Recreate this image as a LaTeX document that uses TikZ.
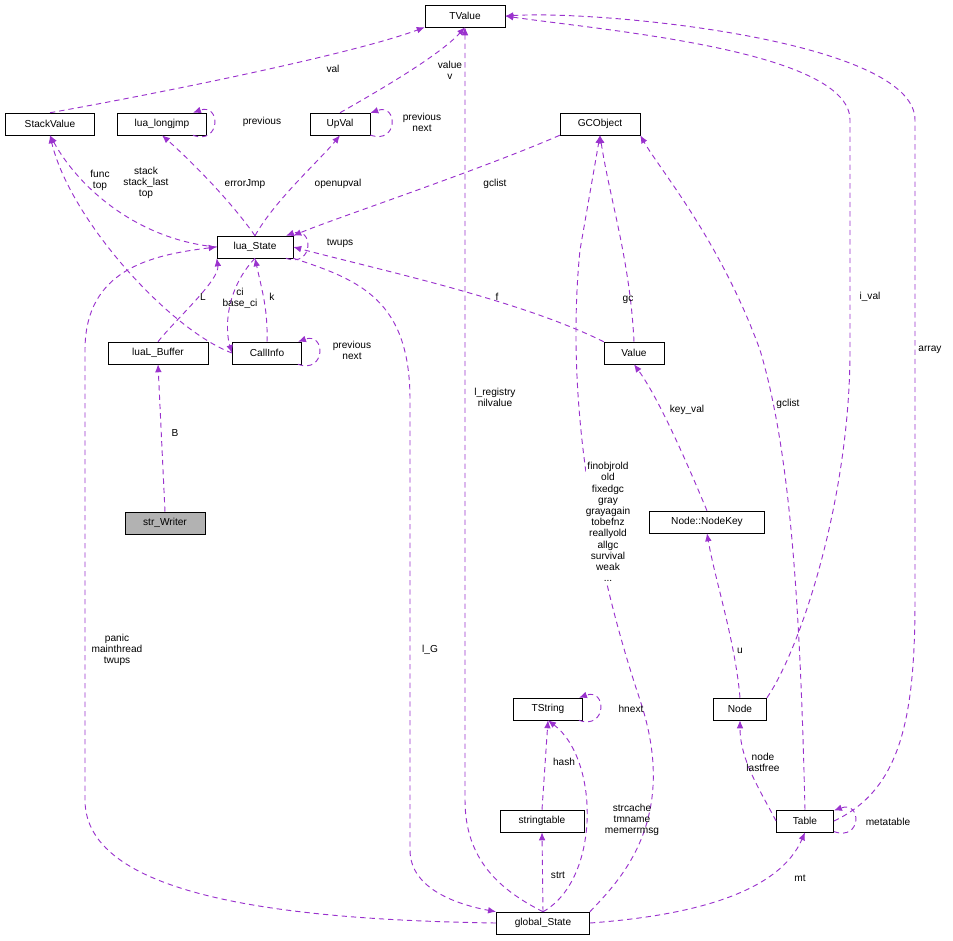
\documentclass[tikz,border=0pt]{standalone}
\usepackage{fontspec}
\setmainfont{Liberation Sans}
\usetikzlibrary{arrows.meta}

\begin{document}
\begin{tikzpicture}[x=0.75pt,y=-0.75pt,
  every node/.style={font=\fontsize{7.6}{8.4}\selectfont},
  cls/.style={draw,rectangle,minimum height=16.5pt,inner sep=2pt,fill=white},
  dep/.style={draw={rgb,255:red,154;green,50;blue,205},line width=0.7pt,dash pattern=on 4pt off 3pt,-{Latex[length=6pt,width=5pt]}},
  lbl/.style={align=center,inner sep=0}]
\useasboundingbox (0,0) rectangle (953,940);

% classes
\node[cls,minimum width=60pt] (tvalue) at (465,16) {TValue};
\node[cls,minimum width=67pt] (stackvalue) at (50,124) {StackValue};
\node[cls,minimum width=67pt] (longjmp) at (162,124) {lua\_longjmp};
\node[cls,minimum width=45pt] (upval) at (340,124) {UpVal};
\node[cls,minimum width=60pt] (gcobject) at (600,124) {GCObject};
\node[cls,minimum width=57pt] (luastate) at (255,247) {lua\_State};
\node[cls,minimum width=75pt] (buffer) at (158,353) {luaL\_Buffer};
\node[cls,minimum width=52pt] (callinfo) at (267,353) {CallInfo};
\node[cls,minimum width=45pt] (value) at (634,353) {Value};
\node[cls,minimum width=60pt,fill=gray!60] (writer) at (165,523) {str\_Writer};
\node[cls,minimum width=86pt] (nodekey) at (707,522) {Node::NodeKey};
\node[cls,minimum width=40pt] (node) at (740,709) {Node};
\node[cls,minimum width=52pt] (tstring) at (548,709) {TString};
\node[cls,minimum width=63pt] (strtable) at (542,821) {stringtable};
\node[cls,minimum width=43pt] (table) at (805,821) {Table};
\node[cls,minimum width=70pt] (gstate) at (543,923) {global\_State};

% edges
\draw[dep] (stackvalue.north) .. controls (150,95) and (350,55) .. (tvalue.south west);
\node[lbl] (l-val) at (333,69) {val};
\draw[dep] (upval.north) .. controls (380,90) and (440,55) .. (tvalue.south);
\node[lbl] (l-value) at (450,70) {value\\v};
\draw[dep] (upval.-20) .. controls +(28,10) and +(28,-10) .. (upval.20);
\node[lbl] (l-upself) at (422,122) {previous\\next};
\draw[dep] (longjmp.-20) .. controls +(28,10) and +(28,-10) .. (longjmp.20);
\node[lbl] (l-ljself) at (262,122) {previous};
\draw[dep] (luastate.west) .. controls (140,240) and (80,190) .. (stackvalue.south);
\node[lbl] (l-stack) at (146,183) {stack\\stack\_last\\top};
\draw[dep] (luastate.north) .. controls (230,200) and (190,160) .. (longjmp.south);
\node[lbl] (l-err) at (245,184) {errorJmp};
\draw[dep] (luastate.north) .. controls (275,200) and (320,160) .. (upval.south);
\node[lbl] (l-oup) at (338,184) {openupval};
\draw[dep] (gcobject.south west) .. controls (480,170) and (330,220) .. (luastate.north east);
\node[lbl] (l-gcl) at (495,184) {gclist};
\draw[dep] (luastate.-20) .. controls +(28,10) and +(28,-10) .. (luastate.20);
\node[lbl] (l-twups) at (340,243) {twups};
\draw[dep] (callinfo.west) .. controls (170,330) and (70,220) .. (stackvalue.south);
\node[lbl] (l-func) at (100,180) {func\\top};
\draw[dep] (buffer.north) .. controls (175,320) and (220,280) .. (luastate.south west);
\node[lbl] (l-L) at (203,297) {L};
\draw[dep] (luastate.south) .. controls (225,290) and (225,330) .. (callinfo.west);
\node[lbl] (l-ci) at (240,298) {ci\\base\_ci};
\draw[dep] (callinfo.north) .. controls (268,310) and (262,290) .. (luastate.south);
\node[lbl] (l-k) at (272,297) {k};
\draw[dep] (callinfo.-20) .. controls +(28,10) and +(28,-10) .. (callinfo.20);
\node[lbl] (l-ciself) at (352,350) {previous\\next};
\draw[dep] (value.north west) .. controls (520,300) and (380,270) .. (luastate.east);
\node[lbl] (l-f) at (497,297) {f};
\draw[dep] (value.north) .. controls (630,260) and (610,200) .. (gcobject.south);
\node[lbl] (l-gc) at (628,300) {gc};
\draw[dep] (writer.north) -- (buffer.south);
\node[lbl] (l-B) at (175,433) {B};
\draw[dep] (gstate.west) .. controls (300,920) and (85,900) .. (85,800) -- (85,350) .. controls (85,270) and (150,255) .. (luastate.west);
\node[lbl] (l-panic) at (117,650) {panic\\mainthread\\twups};
\draw[dep] (luastate.south east) .. controls (360,280) and (410,300) .. (410,400) -- (410,850) .. controls (410,890) and (460,905) .. (gstate.north west);
\node[lbl] (l-lG) at (430,650) {l\_G};
\draw[dep] (gstate.north) .. controls (500,890) and (465,860) .. (465,800) -- (tvalue.south);
\node[lbl] (l-reg) at (495,397) {l\_registry\\nilvalue};
\draw[dep] (gstate.north east) .. controls (620,880) and (680,820) .. (640,700) .. controls (620,640) and (560,450) .. (580,250) -- (gcobject.south);
\node[lbl,fill=white] (l-fin) at (608,522) {finobjrold\\old\\fixedgc\\gray\\grayagain\\tobefnz\\reallyold\\allgc\\survival\\weak\\...};
\draw[dep] (nodekey.north) .. controls (690,470) and (660,400) .. (value.south);
\node[lbl] (l-kv) at (687,410) {key\_val};
\draw[dep] (node.north) .. controls (735,640) and (715,580) .. (nodekey.south);
\node[lbl] (l-u) at (740,651) {u};
\draw[dep] (node.north east) .. controls (800,650) and (850,500) .. (850,350) -- (850,120) .. controls (850,50) and (600,30) .. (tvalue.east);
\node[lbl] (l-ival) at (870,297) {i\_val};
\draw[dep] (table.north) .. controls (800,600) and (790,450) .. (760,350) .. controls (720,240) and (660,170) .. (gcobject.south east);
\node[lbl] (l-gcl2) at (788,404) {gclist};
\draw[dep] (table.east) .. controls (900,790) and (915,720) .. (915,600) -- (915,120) .. controls (915,40) and (600,10) .. (tvalue.east);
\node[lbl] (l-arr) at (930,350) {array};
\draw[dep] (table.west) .. controls (760,790) and (740,760) .. (node.south);
\node[lbl] (l-nl) at (763,762) {node\\lastfree};
\draw[dep] (table.-20) .. controls +(28,10) and +(28,-10) .. (table.20);
\node[lbl] (l-mt2) at (888,822) {metatable};
\draw[dep] (tstring.-20) .. controls +(28,10) and +(28,-10) .. (tstring.20);
\node[lbl] (l-hn) at (631,709) {hnext};
\draw[dep] (strtable.north) -- (tstring.south);
\node[lbl] (l-hash) at (564,762) {hash};
\draw[dep] (gstate.north) .. controls (600,880) and (600,760) .. (tstring.south);
\node[lbl] (l-strc) at (632,820) {strcache\\tmname\\memerrmsg};
\draw[dep] (gstate.north) -- (strtable.south);
\node[lbl] (l-strt) at (558,875) {strt};
\draw[dep] (gstate.east) .. controls (700,915) and (780,890) .. (table.south);
\node[lbl] (l-mt) at (800,878) {mt};
\end{tikzpicture}
\end{document}
